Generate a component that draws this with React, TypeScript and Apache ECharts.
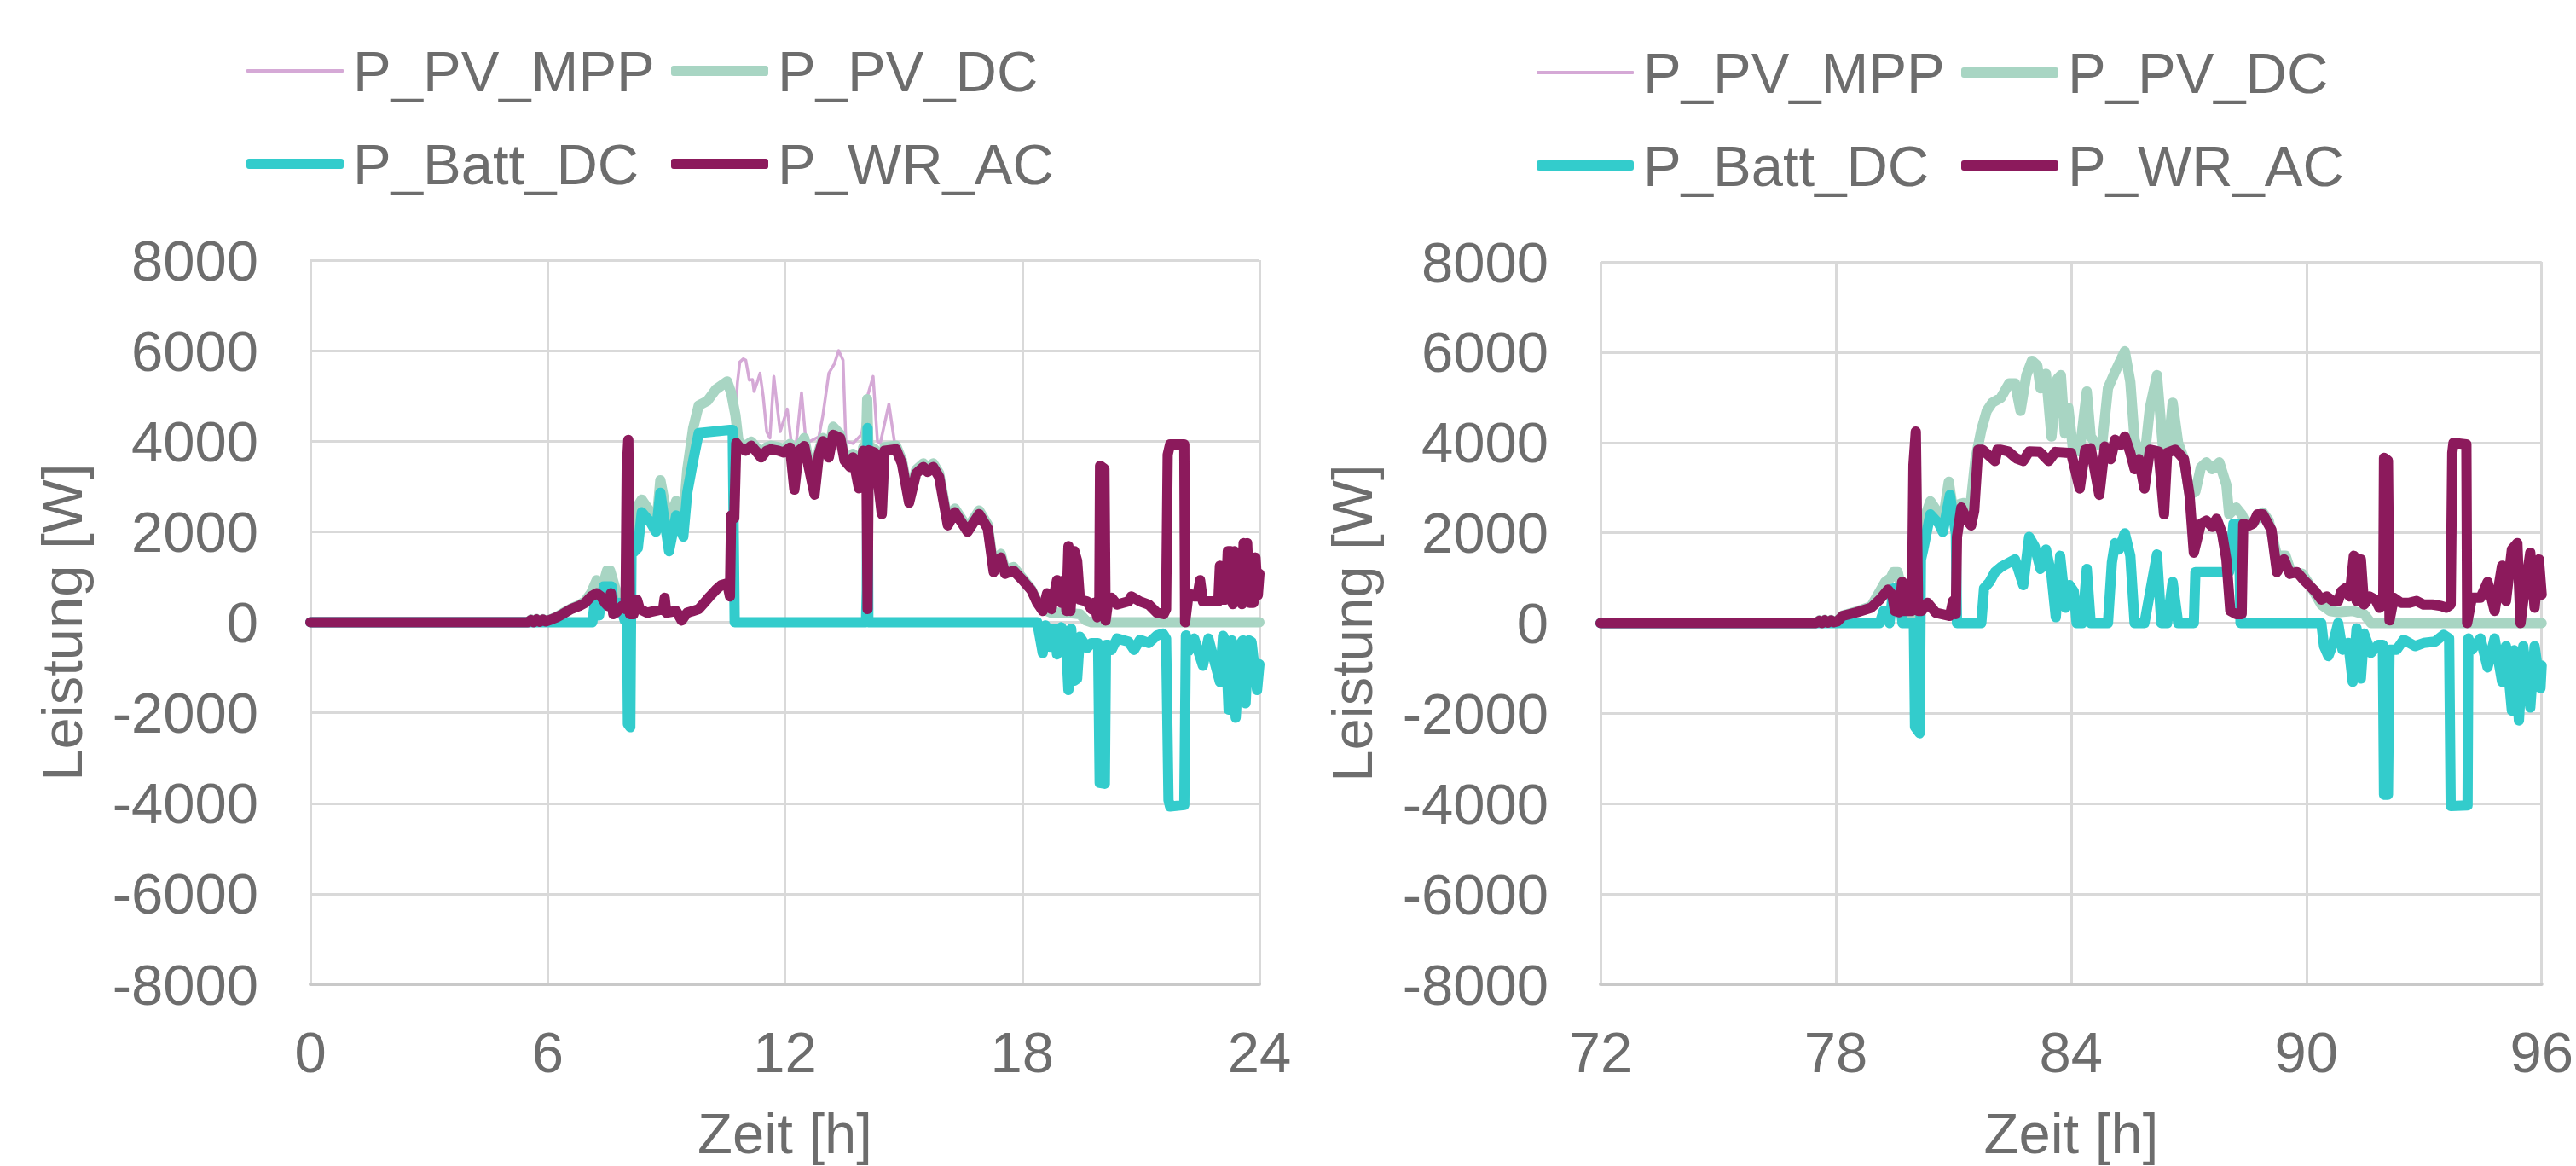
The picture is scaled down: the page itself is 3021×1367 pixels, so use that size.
import React, { useEffect, useRef } from "react";
import * as echarts from "echarts";

type Pt = [number, number];

// ---------- Texts ----------
const NAMES = ["P_PV_MPP", "P_PV_DC", "P_Batt_DC", "P_WR_AC"];
const Y_TITLE = "Leistung [W]";
const X_TITLE = "Zeit [h]";
const Y_MIN = -8000;
const Y_MAX = 8000;
const Y_STEP = 2000;
const X_STEP = 6;
const LEFT_RANGE = [0, 24];
const RIGHT_RANGE = [72, 96];

// ---------- Left panel (hours 0–24) ----------
const L_WR_AC: Pt[] = [
  [0, 0], [5.5, 0], [5.58, 50], [5.65, 0], [5.72, 60], [5.8, 10], [5.88, 60], [5.95, 20], [6.09, 60], [6.23, 110],
  [6.38, 180], [6.59, 290], [6.8, 360], [6.95, 430], [7.1, 570], [7.24, 640], [7.35, 570], [7.45, 430], [7.52, 360],
  [7.6, 640], [7.66, 180], [7.74, 220], [7.88, 360], [7.97, 290], [8.0, 3400], [8.04, 4030], [8.08, 180], [8.17, 180],
  [8.26, 500], [8.33, 290], [8.52, 210], [8.92, 290], [8.96, 540], [9.0, 210], [9.25, 250], [9.39, 40], [9.53, 210],
  [9.68, 250], [9.82, 290], [9.96, 430], [10.1, 570], [10.25, 710], [10.39, 820], [10.54, 860], [10.61, 570],
  [10.64, 2360], [10.72, 2300], [10.77, 3960], [10.86, 3860], [11.01, 3790], [11.15, 3900], [11.26, 3790],
  [11.4, 3640], [11.54, 3790], [11.65, 3820], [11.83, 3790], [11.97, 3750], [12.13, 3860], [12.24, 2930],
  [12.35, 3790], [12.49, 3890], [12.75, 2820], [12.86, 3710], [12.96, 4000], [13.11, 3640], [13.22, 4140],
  [13.4, 4070], [13.51, 3570], [13.65, 3430], [13.72, 3640], [13.87, 2960], [13.98, 3790], [14.06, 3650],
  [14.09, 290], [14.12, 3800], [14.27, 3750], [14.45, 2390], [14.52, 3790], [14.81, 3820], [14.96, 3500],
  [15.14, 2640], [15.32, 3290], [15.5, 3430], [15.61, 3320], [15.75, 3430], [15.9, 3210], [16.12, 2140],
  [16.3, 2430], [16.62, 2000], [16.91, 2390], [17.13, 2070], [17.28, 1110], [17.46, 1430], [17.57, 1070],
  [17.78, 1140], [18.01, 930], [18.23, 710], [18.38, 430], [18.52, 250], [18.63, 640], [18.74, 290], [18.88, 930],
  [18.99, 430], [19.06, 930], [19.12, 250], [19.17, 1680], [19.22, 250], [19.32, 1570], [19.39, 1360], [19.46, 500],
  [19.64, 460], [19.75, 290], [19.82, 430], [19.9, 110], [19.95, 200], [19.97, 3460], [20.08, 3390], [20.11, 40],
  [20.18, 500], [20.26, 540], [20.4, 390], [20.69, 460], [20.76, 570], [20.98, 460], [21.2, 390], [21.41, 210],
  [21.58, 180], [21.64, 290], [21.68, 3700], [21.74, 3930], [22.1, 3930], [22.12, 0], [22.21, 640], [22.35, 570],
  [22.43, 570], [22.5, 930], [22.57, 460], [22.71, 460], [22.96, 460], [23.0, 1250], [23.06, 500], [23.15, 500],
  [23.2, 1570], [23.28, 1570], [23.33, 400], [23.37, 1570], [23.44, 600], [23.51, 1210], [23.56, 400], [23.6, 1750],
  [23.66, 500], [23.69, 1750], [23.75, 430], [23.85, 430], [23.9, 1430], [23.96, 600], [24.0, 1070],
];

const L_BATT_DC: Pt[] = [
  [0, 0], [7.13, 0], [7.2, 500], [7.3, 150], [7.42, 790], [7.62, 790], [7.68, 200], [7.81, 430], [7.95, 40],
  [8.01, 0], [8.03, -2250], [8.09, -2320], [8.12, 1500], [8.28, 1640], [8.38, 2430], [8.6, 2210], [8.74, 2000],
  [8.85, 2860], [9.07, 1570], [9.25, 2360], [9.43, 1890], [9.53, 2860], [9.68, 3570], [9.82, 4180], [10.61, 4250],
  [10.68, 4250], [10.7, 2430], [10.73, 0], [14.05, 0], [14.07, 700], [14.09, 4290], [14.11, 0], [18.38, 0],
  [18.52, -680], [18.59, -70], [18.7, -540], [18.81, -140], [18.88, -710], [18.99, -110], [19.1, -290],
  [19.17, -1500], [19.24, -140], [19.32, -1290], [19.39, -1250], [19.46, -320], [19.64, -570], [19.75, -460],
  [19.92, -460], [19.96, -3550], [20.09, -3570], [20.12, -500], [20.18, -500], [20.26, -610], [20.4, -360],
  [20.69, -430], [20.83, -610], [20.98, -390], [21.2, -460], [21.41, -290], [21.56, -250], [21.64, -360],
  [21.7, -3930], [21.74, -4070], [22.1, -4040], [22.14, -290], [22.21, -640], [22.35, -360], [22.57, -960],
  [22.71, -360], [23.0, -1320], [23.08, -300], [23.15, -430], [23.22, -1930], [23.3, -400], [23.4, -2110],
  [23.51, -500], [23.58, -400], [23.65, -1790], [23.73, -400], [23.8, -430], [23.94, -1500], [24.0, -930],
];

const L_PV_DC: Pt[] = [
  [0, 0], [5.5, 0], [5.58, 60], [5.65, 10], [5.72, 70], [5.8, 20], [5.88, 70], [5.95, 30], [6.09, 70], [6.23, 120],
  [6.38, 200], [6.59, 300], [6.8, 380], [6.95, 470], [7.1, 650], [7.24, 930], [7.38, 760], [7.5, 1140], [7.58, 1140],
  [7.7, 780], [7.81, 500], [7.95, 400], [8.02, 300], [8.1, 1640], [8.2, 2400], [8.28, 2570], [8.38, 2710],
  [8.6, 2430], [8.74, 2070], [8.85, 3140], [9.07, 2140], [9.25, 2680], [9.43, 2290], [9.53, 3360], [9.68, 4290],
  [9.82, 4790], [10.04, 4890], [10.25, 5140], [10.54, 5320], [10.64, 5070], [10.75, 4570], [10.82, 4040],
  [10.86, 3950], [11.01, 3900], [11.15, 3990], [11.26, 3880], [11.4, 3720], [11.54, 3870], [11.65, 3900],
  [11.83, 3870], [11.97, 3830], [12.13, 3940], [12.24, 3010], [12.35, 3870], [12.49, 4070], [12.75, 2900],
  [12.86, 3790], [12.96, 4070], [13.11, 3720], [13.22, 4320], [13.4, 4150], [13.51, 3650], [13.65, 3510],
  [13.72, 3720], [13.87, 3040], [13.98, 3870], [14.05, 3900], [14.08, 4930], [14.11, 3900], [14.27, 3830],
  [14.45, 2470], [14.52, 3870], [14.81, 3900], [14.96, 3580], [15.14, 2720], [15.32, 3370], [15.5, 3510],
  [15.61, 3400], [15.75, 3510], [15.9, 3290], [16.12, 2220], [16.3, 2510], [16.62, 2080], [16.91, 2470],
  [17.13, 2150], [17.28, 1190], [17.46, 1510], [17.57, 1150], [17.78, 1220], [18.01, 970], [18.23, 730],
  [18.38, 450], [18.52, 290], [18.74, 210], [19.1, 210], [19.46, 180], [19.61, 40], [19.75, 0], [24, 0],
];

const L_MPP_PEAKS: Pt[] = [
  [10.64, 5070], [10.75, 4600], [10.8, 5300], [10.86, 5750], [10.95, 5820], [11.01, 5790], [11.1, 5350],
  [11.18, 5360], [11.22, 5100], [11.3, 5300], [11.37, 5500], [11.45, 5000], [11.54, 4210], [11.62, 4070],
  [11.72, 5430], [11.8, 4800], [11.88, 4210], [12.06, 4710], [12.17, 3900], [12.28, 3900], [12.42, 5070],
  [12.53, 4000], [12.64, 4000], [12.86, 4100], [12.96, 4570], [13.11, 5500], [13.25, 5710], [13.36, 6000],
  [13.47, 5790], [13.54, 4000], [13.72, 3950], [13.94, 4150], [14.09, 5000], [14.23, 5430], [14.34, 4000],
  [14.41, 3950], [14.63, 4820], [14.78, 3930], [14.81, 3900],
];

// ---------- Right panel (hours 72–96) ----------
const R_WR_AC: Pt[] = [
  [72, 0], [77.5, 0], [77.58, 50], [77.65, 0], [77.72, 60], [77.8, 10], [77.88, 60], [77.95, 20], [78.04, 40],
  [78.18, 160], [78.54, 240], [78.9, 340], [79.12, 520], [79.33, 740], [79.44, 630], [79.51, 270], [79.62, 240],
  [79.69, 910], [79.76, 270], [79.94, 270], [79.98, 3500], [80.04, 4240], [80.1, 270], [80.19, 270], [80.34, 450],
  [80.55, 230], [80.91, 160], [80.99, 490], [81.06, 200], [81.09, 1910], [81.2, 2560], [81.35, 2270], [81.45, 2160],
  [81.53, 2490], [81.63, 3840], [81.74, 3840], [82.06, 3590], [82.12, 3840], [82.21, 3840], [82.4, 3800],
  [82.6, 3650], [82.78, 3590], [82.93, 3800], [83.2, 3790], [83.43, 3590], [83.6, 3790], [83.94, 3770],
  [84.0, 3770], [84.22, 2980], [84.36, 3840], [84.5, 3870], [84.72, 2840], [84.86, 3910], [85.01, 3630],
  [85.12, 4060], [85.26, 3950], [85.37, 4130], [85.51, 3770], [85.62, 3410], [85.73, 3630], [85.87, 2980],
  [86.01, 3840], [86.23, 3800], [86.37, 2410], [86.45, 3770], [86.66, 3840], [86.88, 3630], [87.02, 2840],
  [87.13, 1560], [87.31, 2200], [87.45, 2270], [87.6, 2130], [87.71, 2310], [87.85, 1990], [87.96, 1410],
  [88.06, 270], [88.21, 200], [88.35, 200], [88.39, 2200], [88.53, 2160], [88.64, 2200], [88.75, 2410],
  [88.89, 2410], [89.11, 2060], [89.25, 1130], [89.43, 1410], [89.58, 1090], [89.76, 1130], [89.94, 950],
  [90.23, 700], [90.38, 520], [90.52, 590], [90.67, 490], [90.81, 490], [90.89, 700], [90.99, 770], [91.1, 590],
  [91.21, 1490], [91.28, 490], [91.39, 1410], [91.47, 410], [91.61, 590], [91.76, 520], [91.86, 340], [91.96, 400],
  [91.98, 3660], [92.08, 3600], [92.12, 60], [92.23, 560], [92.41, 450], [92.63, 450], [92.81, 490], [92.99, 410],
  [93.21, 410], [93.43, 380], [93.57, 340], [93.68, 410], [93.72, 3770], [93.75, 3990], [94.08, 3960], [94.1, 0],
  [94.22, 560], [94.44, 560], [94.62, 910], [94.8, 270], [94.99, 1270], [95.09, 490], [95.24, 1630], [95.38, 1770],
  [95.46, 0], [95.53, 490], [95.71, 1560], [95.82, 340], [95.93, 1410], [96.0, 630],
];

const R_BATT_DC: Pt[] = [
  [72, 0], [79.12, 0], [79.22, 270], [79.37, 0], [79.47, 770], [79.6, 770], [79.7, 0], [79.99, 0], [80.02, -2300],
  [80.14, -2440], [80.17, 1400], [80.23, 1630], [80.41, 2410], [80.63, 2200], [80.73, 2020], [80.91, 2840],
  [81.06, 1990], [81.09, 0], [81.71, 0], [81.78, 770], [81.92, 910], [82.06, 1130], [82.21, 1240], [82.42, 1340],
  [82.57, 1410], [82.78, 840], [82.93, 1910], [83.07, 1700], [83.22, 1200], [83.36, 1630], [83.5, 1060],
  [83.61, 130], [83.72, 1490], [83.86, 340], [83.96, 840], [84.07, 700], [84.14, 0], [84.29, 0], [84.4, 1200],
  [84.5, 0], [84.94, 0], [85.04, 1340], [85.12, 1770], [85.22, 1630], [85.37, 1990], [85.51, 1490], [85.62, 0],
  [85.87, 0], [86.19, 1520], [86.3, 0], [86.45, 0], [86.59, 910], [86.73, 0], [87.13, 0], [87.17, 1130],
  [88.03, 1130], [88.14, 2200], [88.28, 2200], [88.32, 0], [90.38, 0], [90.45, -510], [90.56, -730], [90.67, -480],
  [90.81, 0], [90.92, -590], [91.07, -440], [91.18, -1300], [91.28, -120], [91.39, -1230], [91.47, -230],
  [91.65, -660], [91.83, -480], [91.95, -480], [91.98, -3800], [92.08, -3800], [92.12, -590], [92.3, -590],
  [92.48, -370], [92.77, -510], [92.99, -440], [93.28, -410], [93.5, -260], [93.64, -340], [93.68, -4050],
  [94.11, -4040], [94.13, -340], [94.22, -590], [94.44, -340], [94.62, -980], [94.8, -340], [94.99, -1300],
  [95.09, -510], [95.24, -1940], [95.3, -600], [95.42, -2160], [95.53, -510], [95.71, -1870], [95.82, -510],
  [95.97, -1440], [96.0, -940],
];

const R_PV_DC: Pt[] = [
  [72, 0], [77.5, 0], [77.58, 60], [77.65, 10], [77.72, 70], [77.8, 20], [77.88, 70], [77.95, 30], [78.04, 50],
  [78.18, 170], [78.54, 260], [78.9, 370], [79.12, 700], [79.26, 910], [79.4, 1000], [79.47, 1130], [79.58, 1130],
  [79.69, 700], [79.83, 200], [79.98, 200], [80.12, 1500], [80.2, 2000], [80.27, 2340], [80.41, 2700],
  [80.63, 2410], [80.73, 2270], [80.88, 3130], [81.02, 2340], [81.13, 2630], [81.27, 2660], [81.42, 2490],
  [81.56, 3630], [81.71, 4270], [81.85, 4700], [81.99, 4880], [82.21, 4990], [82.42, 5310], [82.57, 5310],
  [82.71, 4700], [82.86, 5490], [83.0, 5810], [83.14, 5700], [83.22, 5200], [83.36, 5520], [83.5, 4130],
  [83.65, 5410], [83.74, 5490], [83.84, 4200], [83.93, 4770], [84.04, 3910], [84.22, 3800], [84.4, 5130],
  [84.5, 4130], [84.65, 3950], [84.79, 3950], [84.94, 5200], [85.12, 5560], [85.37, 6020], [85.51, 5340],
  [85.62, 4060], [85.76, 3700], [85.87, 3640], [86.01, 4770], [86.19, 5490], [86.34, 3910], [86.48, 3870],
  [86.59, 4880], [86.73, 3990], [86.88, 3630], [87.02, 2840], [87.17, 2910], [87.31, 3450], [87.45, 3560],
  [87.6, 3410], [87.78, 3560], [87.96, 3060], [88.03, 2410], [88.21, 2560], [88.35, 2410], [88.46, 2200],
  [88.68, 2250], [88.89, 2450], [89.04, 2270], [89.25, 1490], [89.47, 1490], [89.61, 1130], [89.9, 1090],
  [90.19, 700], [90.38, 410], [90.6, 270], [90.81, 240], [91.18, 270], [91.47, 200], [91.65, 0], [96, 0],
];

// MPP curve: identical to P_PV_DC except where the left panel shows the thin peaks above it
const L_PV_MPP: Pt[] = [
  ...L_PV_DC.filter((p) => p[0] < 10.6),
  ...L_MPP_PEAKS,
  ...L_PV_DC.filter((p) => p[0] > 14.85),
];
const R_PV_MPP: Pt[] = R_PV_DC;

// ---------- Styles ----------
const FONT = '"Liberation Sans", Arial, Helvetica, sans-serif';
const TEXT = "#6D6D6D";
const GRID_LINE = "#D9D9D9";
const COLORS = ["#D5A9D6", "#A8D5C3", "#33CCCC", "#8C1A5C"];
const WIDTHS = [3.5, 12, 12, 12];
const FS = 67;

function xAxis(gridIndex: number, range: number[]) {
  return {
    type: "value",
    gridIndex,
    min: range[0],
    max: range[1],
    interval: X_STEP,
    axisLine: { show: true, onZero: false, lineStyle: { color: "#C9C9C9", width: 4 } },
    axisTick: { show: false },
    splitLine: { show: true, lineStyle: { color: GRID_LINE, width: 3 } },
    axisLabel: { fontSize: FS, color: TEXT, fontFamily: FONT, margin: 46, formatter: (v: number) => String(v) },
    name: X_TITLE,
    nameLocation: "middle",
    nameGap: 141,
    nameTextStyle: { fontSize: FS, color: TEXT, fontFamily: FONT },
  };
}

function yAxis(gridIndex: number) {
  return {
    type: "value",
    gridIndex,
    min: Y_MIN,
    max: Y_MAX,
    interval: Y_STEP,
    axisLine: { show: false },
    axisTick: { show: false },
    splitLine: { show: true, lineStyle: { color: GRID_LINE, width: 3 } },
    axisLabel: { fontSize: FS, color: TEXT, fontFamily: FONT, margin: 61, formatter: (v: number) => String(v) },
    name: Y_TITLE,
    nameLocation: "middle",
    nameGap: 258,
    nameTextStyle: { fontSize: FS, color: TEXT, fontFamily: FONT },
  };
}

function legendItem(nameIdx: number, left: number, top: number) {
  return {
    left,
    top,
    padding: 0,
    itemWidth: 114,
    itemHeight: nameIdx === 0 ? 4 : 12,
    selectedMode: false,
    data: [{ name: NAMES[nameIdx], icon: "roundRect", itemStyle: { color: COLORS[nameIdx] } }],
    textStyle: { fontSize: FS, color: TEXT, fontFamily: FONT, lineHeight: 70, padding: [0, 0, 0, 6] },
  };
}

function seriesFor(axisIndex: number, sets: Pt[][]) {
  return sets.map((data, i) => ({
    type: "line",
    name: NAMES[i],
    xAxisIndex: axisIndex,
    yAxisIndex: axisIndex,
    data,
    symbol: "none",
    showSymbol: false,
    silent: true,
    z: 2 + i,
    itemStyle: { color: COLORS[i] },
    lineStyle: { color: COLORS[i], width: WIDTHS[i], cap: "round", join: "round" },
  }));
}

export default function App() {
  const ref = useRef<HTMLDivElement>(null);
  useEffect(() => {
    if (!ref.current) return;
    const chart = echarts.init(ref.current, null, { renderer: "svg" });
    const option: any = {
      animation: false,
      backgroundColor: "#FFFFFF",
      textStyle: { fontFamily: FONT },
      legend: [
        legendItem(0, 289, 48),
        legendItem(1, 787, 48),
        legendItem(2, 289, 157),
        legendItem(3, 787, 157),
        legendItem(0, 1802, 50),
        legendItem(1, 2300, 50),
        legendItem(2, 1802, 159),
        legendItem(3, 2300, 159),
      ],
      grid: [
        { left: 364, top: 305, width: 1113, height: 856 },
        { left: 1877, top: 307, width: 1112, height: 856 },
      ],
      xAxis: [xAxis(0, LEFT_RANGE), xAxis(1, RIGHT_RANGE)],
      yAxis: [yAxis(0), yAxis(1)],
      series: [
        ...seriesFor(0, [L_PV_MPP, L_PV_DC, L_BATT_DC, L_WR_AC]),
        ...seriesFor(1, [R_PV_MPP, R_PV_DC, R_BATT_DC, R_WR_AC]),
      ],
    };
    chart.setOption(option);
    return () => chart.dispose();
  }, []);
  return (
    <div
      ref={ref}
      style={{ position: "fixed", left: 0, top: 0, width: 3021, height: 1367, background: "#FFFFFF" }}
    />
  );
}
